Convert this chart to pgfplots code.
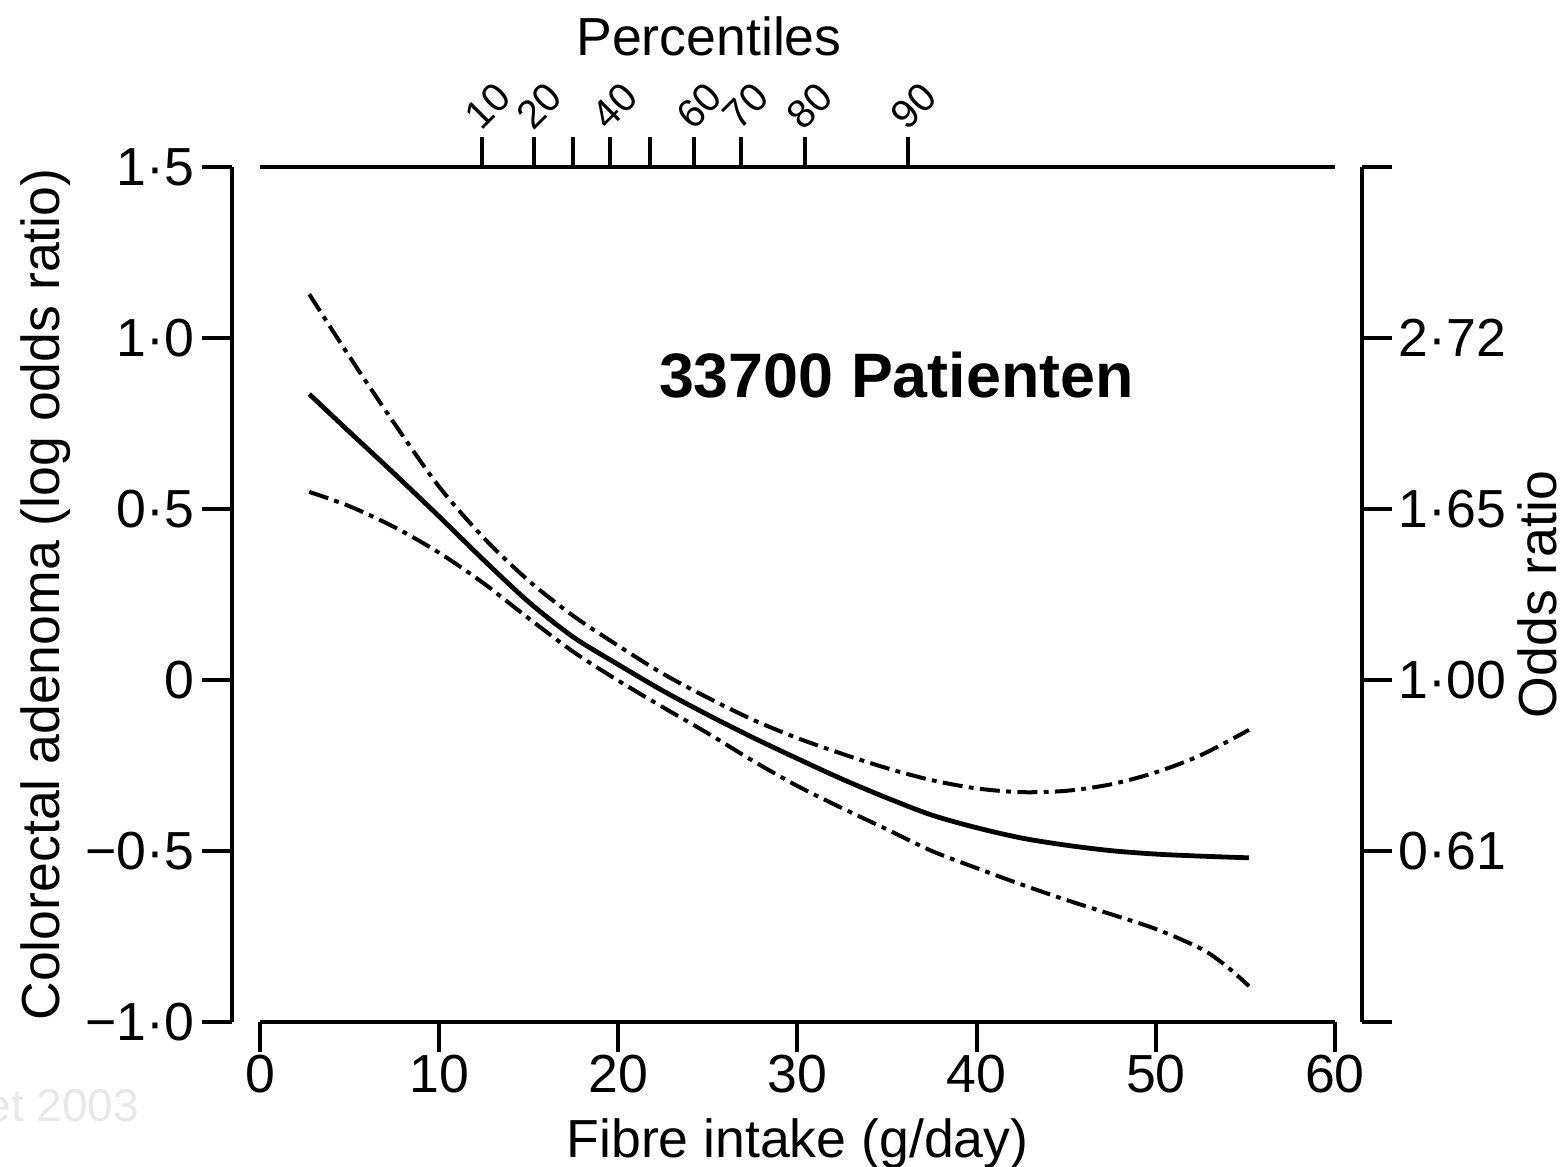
\documentclass[border=0pt]{standalone}
\usepackage{fontspec}
\setmainfont{Liberation Sans}
\usepackage{pgfplots}
\pgfplotsset{compat=1.18}
\definecolor{wm}{RGB}{232,232,232}

\pgfplotsset{
  fib/.style={
    scale only axis, width=268.75pt, height=213.75pt,
    xmin=0, xmax=60, ymin=-1, ymax=1.5,
    tick align=outside, major tick length=7.5pt,
    every tick/.style={line width=1pt, black},
    axis line style={line width=1pt},
    tick label style={font=\fontsize{13.4}{16}\selectfont, inner sep=0pt},
    label style={font=\fontsize{13.4}{16}\selectfont},
    /pgf/number format/assume math mode=true,
    minor tick num=0,
  },
  ci/.style={black, line width=1pt, smooth, dash pattern=on 5pt off 1.6pt on 1.2pt off 1.6pt},
}

\begin{document}
\begin{tikzpicture}
\path[use as bounding box] (-65pt,-36.25pt) rectangle (326pt,255.5pt);

% left y axis (log odds ratio)
\begin{axis}[fib, at={(-7pt,0pt)}, axis x line=none, axis y line*=left,
  ytick={-1,-0.5,0,0.5,1,1.5},
  yticklabels={−1·0,−0·5,0,0·5,1·0,1·5},
  yticklabel style={xshift=-1.75pt},
  ylabel={Colorectal adenoma (log odds ratio)},
  ylabel style={at={(axis description cs:-0.160,0.5)}, anchor=base}]
\end{axis}

% right y axis (odds ratio)
\begin{axis}[fib, at={(6.75pt,0pt)}, axis x line=none, axis y line*=right,
  ytick={-1,-0.5,0,0.5,1,1.5},
  yticklabels={,0·61,1·00,1·65,2·72,},
  yticklabel style={xshift=1.5pt},
  ylabel={Odds ratio},
  ylabel style={at={(axis description cs:1.1805,0.5)}, anchor=base}]
\end{axis}

% top axis (percentiles); shifts are in the rotated frame
\begin{axis}[fib, axis x line*=top, axis y line=none,
  xtick={12.41,15.29,17.49,19.52,21.76,24.22,26.82,30.41,36.18},
  xticklabels={10,20,,40,,60,70,80,90},
  xticklabel style={rotate=45, anchor=center, xshift=6.4pt, yshift=4.6pt,
    font=\fontsize{10}{12}\selectfont},
  title={Percentiles},
  title style={at={(axis description cs:0.4177,1.1298)}, anchor=base, yshift=-6pt,
    font=\fontsize{13.4}{16}\selectfont}]
\end{axis}

% main axis with curves
\begin{axis}[fib, axis x line*=bottom, axis y line=none, clip=false,
  xtick={0,10,20,30,40,50,60},
  xticklabel style={yshift=-0.6pt},
  xlabel={Fibre intake (g/day)},
  xlabel style={at={(axis description cs:0.5,-0.1579)}, anchor=base}]
% upper confidence limit
\addplot[ci] coordinates {
  (2.75,1.128) (5,0.945) (7.5,0.750) (10,0.565) (12.5,0.415) (15,0.290)
  (17.5,0.187) (20,0.100) (22.5,0.018) (25,-0.052) (27.5,-0.116) (30,-0.170)
  (32.5,-0.216) (35,-0.258) (37.5,-0.293) (40,-0.317) (42.5,-0.328) (45,-0.324)
  (47.5,-0.305) (50,-0.270) (52.5,-0.220) (55.2,-0.146)
};
% estimate
\addplot[black, line width=1.2pt, smooth] coordinates {
  (2.75,0.836) (5,0.725) (7.5,0.603) (10,0.478) (12.5,0.350) (15,0.228)
  (17.5,0.125) (20,0.045) (22.5,-0.032) (25,-0.102) (27.5,-0.168) (30,-0.230)
  (32.5,-0.290) (35,-0.345) (37.5,-0.395) (40,-0.432) (42.5,-0.462) (45,-0.483)
  (47.5,-0.499) (50,-0.509) (52.5,-0.515) (55.2,-0.520)
};
% lower confidence limit
\addplot[ci] coordinates {
  (2.75,0.550) (5,0.508) (7.5,0.447) (10,0.372) (12.5,0.282) (15,0.180)
  (17.5,0.082) (20,-0.002) (22.5,-0.080) (25,-0.156) (27.5,-0.236) (30,-0.310)
  (32.5,-0.375) (35,-0.437) (37.5,-0.500) (40,-0.550) (42.5,-0.598) (45,-0.643)
  (47.5,-0.685) (50,-0.728) (52.5,-0.785) (53.9,-0.835) (55.2,-0.895)
};
\node[anchor=base west, inner sep=0pt, font=\fontsize{15.7}{19}\selectfont\bfseries]
  at (axis cs:22.23,0.8246) {33700 Patienten};
\end{axis}

\node[anchor=base east, inner sep=0pt, text=wm, font=\fontsize{11.5}{14}\selectfont]
  at (-30pt,-25pt) {et 2003};
\end{tikzpicture}
\end{document}
